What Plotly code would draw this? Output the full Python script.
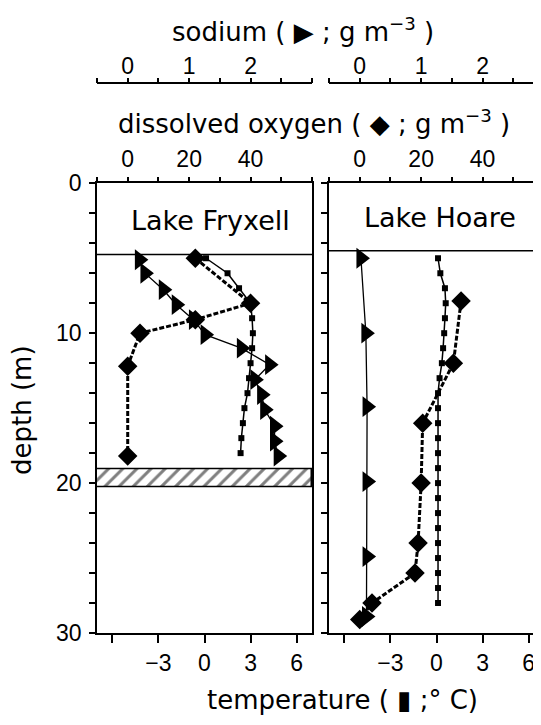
import plotly.graph_objects as go

# ---------------- data ----------------
# Lake Fryxell
fry_na_depth = [5.1, 6.0, 7.1, 8.1, 9.1, 10.1, 11.0, 12.1, 13.1, 14.1, 15.1, 16.2, 17.2, 18.2]
fry_na = [0.19, 0.28, 0.58, 0.79, 1.07, 1.26, 1.85, 2.31, 2.07, 2.18, 2.23, 2.39, 2.39, 2.45]
fry_do_depth = [5.0, 8.0, 9.1, 10.0, 12.2, 18.2]
fry_do = [22, 40, 22, 4, 0, 0]
fry_t_depth = [5, 6, 7, 8, 9, 10, 11, 12, 13, 14, 15, 16, 17, 18]
fry_t = [0.1, 1.5, 2.25, 3.0, 3.1, 3.15, 3.1, 3.0, 2.9, 2.8, 2.6, 2.5, 2.4, 2.35]
fry_ice = 4.75
fry_band = [19.1, 20.25]

# Lake Hoare
hoa_na_depth = [5.0, 10.0, 14.9, 19.9, 24.9, 28.9]
hoa_na = [0.02, 0.10, 0.12, 0.12, 0.12, 0.11]
hoa_do_depth = [7.85, 12.0, 16.0, 20.0, 24.0, 26.0, 28.0, 29.1]
hoa_do = [33, 30.5, 20.5, 20, 19, 18, 4, 0]
hoa_t_depth = [5, 6, 7, 8, 9, 10, 11, 12, 13, 14, 15, 16, 17, 18, 19, 20,
               21, 22, 23, 24, 25, 26, 27, 28]
hoa_t = [0.1, 0.25, 0.55, 0.6, 0.55, 0.5, 0.43, 0.35, 0.2, 0.1, 0.1, 0.1, 0.1, 0.1,
         0.1, 0.1, 0.1, 0.1, 0.1, 0.1, 0.1, 0.1, 0.1, 0.1]
hoa_ice = 4.5

depth_ticks = [0, 2, 4, 6, 8, 10, 12, 14, 16, 18, 20, 22, 24, 26, 28, 30]
depth_labels = ["0", "", "", "", "", "10", "", "", "", "", "20", "", "", "", "", "30"]
temp_ticks = [-6, -3, 0, 3, 6]
temp_labels = ["", "\u22123", "0", "3", "6"]
do_ticks = [-10, 0, 10, 20, 30, 40, 50, 60]
do_labels = ["", "0", "", "20", "", "40", "", ""]
na_ticks = [-0.5, 0, 0.5, 1, 1.5, 2, 2.5, 3]
na_labels = ["", "0", "", "1", "", "2", "", ""]

# ---------------- figure ----------------
OFF = 8                      # page body margin
W, H = 541 - OFF, 725 - 2 * OFF
ML, MR, MT, MB = 97 - OFF, 0, 42, H - (633 - OFF)
PW, PH = W - ML - MR, H - MT - MB

def px_x(p):  # page pixel -> paper x
    return (p - OFF - ML) / PW

def px_y(p):  # page pixel -> paper y
    return (H - MB - (p - OFF)) / PH

left_dom = [0, px_x(312)]
right_dom = [px_x(329), 1]
ytop = px_y(183.3)
na_pos = px_y(83.3)

TICKFONT = dict(family="Liberation Sans", size=23, color="black")
TXTFONT = dict(family="DejaVu Sans", size=26, color="black")

fig = go.Figure()

def add_lake(xt, xd, xn, y, t_d, t_v, do_d, do_v, na_d, na_v):
    fig.add_trace(go.Scatter(x=t_v, y=t_d, xaxis=xt, yaxis=y, mode="lines+markers",
                             line=dict(color="black", width=1.5),
                             marker=dict(symbol="square", size=6, color="black"),
                             showlegend=False))
    fig.add_trace(go.Scatter(x=do_v, y=do_d, xaxis=xd, yaxis=y, mode="lines+markers",
                             line=dict(color="black", width=3, dash="5px,2px"),
                             marker=dict(symbol="diamond", size=15, color="black"),
                             showlegend=False))
    fig.add_trace(go.Scatter(x=na_v, y=na_d, xaxis=xn, yaxis=y, mode="lines+markers",
                             line=dict(color="black", width=1.3),
                             marker=dict(symbol="triangle-right", size=18, color="black"),
                             showlegend=False))

# hatched layer in Lake Fryxell
fig.add_trace(go.Bar(y=[(fry_band[0] + fry_band[1]) / 2], x=[14], base=[-7],
                     width=[fry_band[1] - fry_band[0]], orientation="h",
                     xaxis="x", yaxis="y", showlegend=False,
                     marker=dict(color="white", line=dict(color="black", width=1.5),
                                 pattern=dict(shape="/", fgcolor="black", bgcolor="white",
                                              size=10, solidity=0.3))))

add_lake("x", "x3", "x5", "y", fry_t_depth, fry_t, fry_do_depth, fry_do, fry_na_depth, fry_na)
add_lake("x2", "x4", "x6", "y2", hoa_t_depth, hoa_t, hoa_do_depth, hoa_do, hoa_na_depth, hoa_na)

common = dict(showgrid=False, zeroline=False, showline=True, linecolor="black", linewidth=1.5,
              ticks="outside", tickcolor="black", tickwidth=1.5, tickfont=TICKFONT,
              automargin=False)

fig.update_layout(
    width=W, height=H, margin=dict(l=ML, r=MR, t=MT, b=MB, autoexpand=False),
    paper_bgcolor="white", plot_bgcolor="white", showlegend=False,
    xaxis=dict(**common, domain=left_dom, range=[-7, 7], anchor="y", side="bottom",
               tickvals=temp_ticks, ticktext=temp_labels, ticklen=8, ticklabelstandoff=1),
    xaxis2=dict(**common, domain=right_dom, range=[-7, 6.805], anchor="y2", side="bottom",
                tickvals=temp_ticks, ticktext=temp_labels, ticklen=8, ticklabelstandoff=1),
    xaxis3=dict(**common, overlaying="x", range=[-10, 60], anchor="y", side="top",
                tickvals=do_ticks, ticktext=do_labels, ticklen=5, ticklabelstandoff=0),
    xaxis4=dict(**common, overlaying="x2", range=[-10, 59.02], anchor="y2", side="top",
                tickvals=do_ticks, ticktext=do_labels, ticklen=5, ticklabelstandoff=0),
    xaxis5=dict(**common, overlaying="x", range=[-0.5, 3.0], anchor="free", position=na_pos,
                side="top", tickvals=na_ticks, ticktext=na_labels, ticklen=5, ticklabelstandoff=-6),
    xaxis6=dict(**common, overlaying="x2", range=[-0.5, 2.951], anchor="free", position=na_pos,
                side="top", tickvals=na_ticks, ticktext=na_labels, ticklen=5, ticklabelstandoff=-6),
    yaxis=dict(**common, domain=[0, ytop], range=[30, 0], anchor="x", mirror=True,
               tickvals=depth_ticks, ticktext=depth_labels, ticklen=6, ticklabelstandoff=3),
    yaxis2=dict(**common, domain=[0, ytop], range=[30, 0], anchor="x2",
                tickvals=depth_ticks, showticklabels=False, ticklen=6),
    bargap=0,
)

# ice / surface lines
fig.add_shape(type="line", xref="x domain", yref="y", x0=0, x1=1, y0=fry_ice, y1=fry_ice,
              line=dict(color="black", width=1.5))
fig.add_shape(type="line", xref="x2 domain", yref="y2", x0=0, x1=1, y0=hoa_ice, y1=hoa_ice,
              line=dict(color="black", width=1.5))

ann = dict(xref="paper", yref="paper", showarrow=False, font=TXTFONT, xanchor="center")
fig.add_annotation(text="sodium ( \u25B6 ; g m<sup>\u22123</sup> )", x=px_x(303), y=px_y(30),
                   yanchor="middle", **ann)
fig.add_annotation(text="dissolved oxygen ( \u25C6 ; g m<sup>\u22123</sup> )", x=px_x(314), y=px_y(122),
                   yanchor="middle", **ann)
fig.add_annotation(text="temperature ( \u25AE ;\u00B0 C)", x=px_x(342), y=px_y(717),
                   yanchor="bottom", **ann)
fig.add_annotation(text="depth (m)", x=px_x(22), y=px_y(410), textangle=-90,
                   yanchor="middle", **ann)
fig.add_annotation(text="Lake Fryxell", x=(210 - 97) / 215, y=2.45, xref="x domain", yref="y",
                   xanchor="center", yanchor="middle",
                   showarrow=False, font=dict(family="DejaVu Sans", size=27, color="black"))
fig.add_annotation(text="Lake Hoare", x=(440 - 329) / 212, y=2.3, xref="x2 domain", yref="y2",
                   xanchor="center", yanchor="middle",
                   showarrow=False, font=dict(family="DejaVu Sans", size=27, color="black"))

fig.write_html("out.html")
